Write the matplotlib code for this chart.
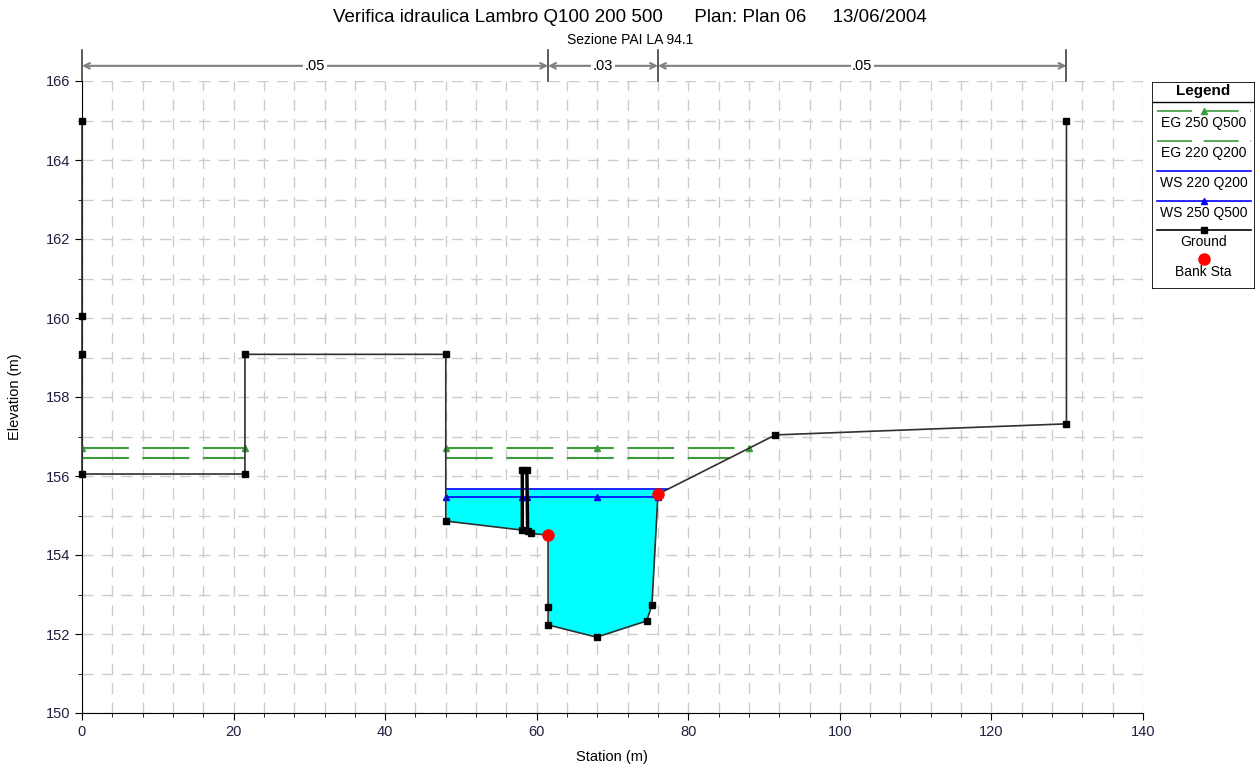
import numpy as np
import matplotlib
matplotlib.use("Agg")
from matplotlib import pyplot as plt
from matplotlib.ticker import MultipleLocator
from matplotlib.patches import Rectangle

plt.rcParams['font.family'] = ['Liberation Sans', 'DejaVu Sans']

# ground profile (station, elevation)
ground_x = [0, 0, 0, 0, 21.5, 21.5, 48.0, 48.0, 58.1, 58.1, 58.7, 58.8, 59.2,
            61.5, 61.5, 61.5, 67.9, 74.5, 75.2, 76.0, 91.5, 129.9, 129.9]
ground_y = [165.0, 160.05, 159.08, 156.05, 156.05, 159.08, 159.08, 154.86, 154.63,
            156.14, 156.14, 154.62, 154.55, 154.5, 152.68, 152.23, 151.92, 152.33,
            152.73, 155.54, 157.04, 157.32, 165.0]

bank_x = [61.5, 76.0]
bank_y = [154.5, 155.54]

ws_q200 = 155.67
ws_q500 = 155.47
eg_q200 = 156.46
eg_q500 = 156.70

left_ob = [0, 21.5]     # left overbank pond
chan_left = 48.0        # left edge of the wetted channel

ws_marks_x = [48.0, 58.1, 58.7, 67.9, 76.0]
eg_marks_x = [0, 21.5, 48.0, 67.9]

# roughness (n) zones
n_sta = [0, 61.5, 76.0, 129.9]
n_val = ['.05', '.03', '.05']

gx = np.array(ground_x)
gy = np.array(ground_y)


def right_edge(level):
    # first upward crossing of ground right of main channel bottom
    i0 = int(np.argmin(gy))
    for i in range(i0, len(gx) - 1):
        if gy[i] <= level <= gy[i + 1]:
            return np.interp(level, [gy[i], gy[i + 1]], [gx[i], gx[i + 1]])
    return gx[-1]


green = '#3c9c3c'
fig = plt.figure(figsize=(12.6, 7.67), dpi=100)
ax = fig.add_axes([82 / 1260, 1 - 713 / 767, (1143 - 82) / 1260, (713 - 81) / 767])

ax.set_xlim(0, 140)
ax.set_ylim(150, 166)
ax.xaxis.set_major_locator(MultipleLocator(20))
ax.xaxis.set_minor_locator(MultipleLocator(4))
ax.yaxis.set_major_locator(MultipleLocator(2))
ax.yaxis.set_minor_locator(MultipleLocator(1))
ax.grid(which='both', color='#cccccc', linestyle=(0, (8, 6)), lw=1)
ax.set_axisbelow(True)
for s in ['top', 'right']:
    ax.spines[s].set_visible(False)
ax.tick_params(which='major', length=5, labelsize=10.5, labelcolor='#202040')
ax.tick_params(which='minor', length=3)

# water
r200 = right_edge(ws_q200)
r500 = right_edge(ws_q500)
m = (gx >= chan_left) & (gx <= r200)
fx = np.concatenate([[chan_left], gx[m][1:], [r200]])
fy = np.concatenate([[ws_q200], np.minimum(gy[m][1:], ws_q200), [ws_q200]])
ax.fill_between(fx, fy, ws_q200, color='#00ffff', lw=0, zorder=2)

# energy grade lines
dash = (0, (22.5, 6.5))
for lvl, marks in [(eg_q500, True), (eg_q200, False)]:
    re = right_edge(lvl)
    for a, b in [left_ob, [chan_left, re]]:
        ax.plot([a, b], [lvl, lvl], color=green, lw=1.5, linestyle=dash, zorder=3)
    if marks:
        ax.plot(eg_marks_x + [re], [lvl] * (len(eg_marks_x) + 1), linestyle='none',
                marker='^', color=green, ms=5, zorder=3)

# water surfaces
ax.plot([chan_left, r200], [ws_q200, ws_q200], color='#0000ff', lw=1.2, zorder=3)
ax.plot([chan_left, r500], [ws_q500, ws_q500], color='#0000ff', lw=1.2, zorder=3)
ax.plot(ws_marks_x, [ws_q500] * len(ws_marks_x), linestyle='none', marker='^',
        color='#0000ff', ms=5, zorder=3)

# ground
ax.plot(gx, gy, color='#303030', lw=1.2, marker='s', ms=4.5, mfc='black', mec='black',
        zorder=4, clip_on=False)
# pier outline drawn heavier
ax.plot(gx[8:12], gy[8:12], color='black', lw=2.5, zorder=4)
ax.plot(bank_x, bank_y, linestyle='none', marker='o', color='#ff0000', ms=8, zorder=5)

# roughness bar above plot
trans = ax.get_xaxis_transform()
for s in n_sta:
    ax.plot([s, s], [1.0, 1.049], color='#404040', lw=1.2, transform=trans, clip_on=False)
for i, v in enumerate(n_val):
    a, b = n_sta[i], n_sta[i + 1]
    ax.annotate('', xy=(a, 1.024), xytext=(b, 1.024), xycoords=trans, textcoords=trans,
                arrowprops=dict(arrowstyle='<->', color='#808080', lw=1.5,
                                shrinkA=0, shrinkB=0))
    ax.text((a + b) / 2, 1.024, v, transform=trans, ha='center', va='center',
            fontsize=10.5, bbox=dict(facecolor='white', edgecolor='none', pad=1))

fig.text(612 / 1260, 1 - 757 / 767, 'Station (m)', ha='center', va='center', fontsize=10.5)
fig.text(15 / 1260, 1 - 397 / 767, 'Elevation (m)', ha='center', va='center',
         rotation=90, fontsize=10.5)

fig.text(630 / 1260, 1 - 17 / 767,
         'Verifica idraulica Lambro Q100 200 500      Plan: Plan 06     13/06/2004',
         ha='center', va='center', fontsize=13.5)
fig.text(630 / 1260, 1 - 40 / 767, 'Sezione PAI LA 94.1', ha='center', va='center',
         fontsize=10)

# legend box, drawn in pixel coordinates
lax = fig.add_axes([1152 / 1260, 1 - 289 / 767, 103 / 1260, 207 / 767])
lax.set_xlim(1152, 1255)
lax.set_ylim(289, 82)
lax.axis('off')
lax.add_patch(Rectangle((1152, 82), 103, 207, fill=False, edgecolor='black', lw=1.2))
lax.plot([1152, 1255], [102, 102], color='black', lw=1)
lax.text(1203.5, 91, 'Legend', ha='center', va='center', fontsize=11, fontweight='bold')
entries = [
    ('EG 250 Q500', green, (0, (21, 7)), '^', 111),
    ('EG 220 Q200', green, (0, (21, 7)), None, 141),
    ('WS 220 Q200', '#0000ff', '-', None, 171),
    ('WS 250 Q500', '#0000ff', '-', '^', 201),
    ('Ground', 'black', '-', 's', 230),
]
for lab, c, ls, mk, yy in entries:
    lax.plot([1157, 1251], [yy, yy], color=c, lw=1.2, linestyle=ls)
    if mk:
        lax.plot([1204], [yy], marker=mk, color=c, ms=4.5)
    lax.text(1203.5, yy + 12, lab, ha='center', va='center', fontsize=10)
lax.plot([1204], [259], marker='o', color='#ff0000', ms=8)
lax.text(1203.5, 272, 'Bank Sta', ha='center', va='center', fontsize=10)

fig.savefig('out.png', dpi=100)
